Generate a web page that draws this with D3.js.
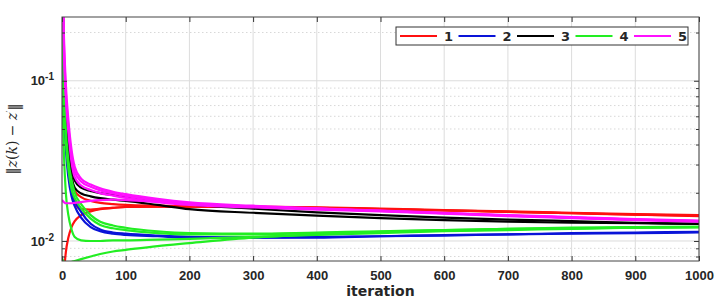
<!DOCTYPE html>
<html>
<head>
<meta charset="utf-8">
<script src="https://cdn.jsdelivr.net/npm/d3@7"></script>
<style>
  body { margin: 0; background: #fff; }
  svg { display: block; font-family: "DejaVu Sans", sans-serif; }
  .tick text { font-weight: bold; font-size: 13px; fill: #262626; }
</style>
</head>
<body>
<div id="chart"></div>
<script>
// sampled iterations (x values shared by every curve)
var iterations = [0, 3, 6, 10, 15, 20, 30, 45, 60, 80, 100, 150, 200, 300, 400, 500, 600, 700, 800, 900, 1000];

var seriesNames = ["1", "2", "3", "4", "5"];
var seriesColors = ["#ff1010", "#0a14d8", "#000000", "#22ee22", "#ff10ff"];

// series 1 (red)
var red = [
  [0.004, 0.0062, 0.0085, 0.0105, 0.0122, 0.0133, 0.0145, 0.0153, 0.0158, 0.0161, 0.0163, 0.0164, 0.0164, 0.0163, 0.0161, 0.0158, 0.0155, 0.0152, 0.0149, 0.0146, 0.0143],
  [0.4, 0.09, 0.045, 0.028, 0.020, 0.0172, 0.0158, 0.0157, 0.0159, 0.0161, 0.0163, 0.0164, 0.0164, 0.0163, 0.0161, 0.0158, 0.0155, 0.0152, 0.0149, 0.0146, 0.0144],
  [0.5, 0.12, 0.06, 0.036, 0.025, 0.0205, 0.0188, 0.0178, 0.0173, 0.0170, 0.0168, 0.0166, 0.0165, 0.0164, 0.0162, 0.0159, 0.0156, 0.0153, 0.0150, 0.0147, 0.0145]
];
// series 2 (blue)
var blue = [
  [0.45, 0.09, 0.045, 0.028, 0.021, 0.018, 0.0152, 0.0128, 0.0118, 0.0113, 0.0111, 0.0108, 0.0106, 0.0105, 0.0106, 0.0107, 0.0109, 0.0110, 0.0112, 0.0113, 0.0114],
  [0.35, 0.07, 0.038, 0.025, 0.019, 0.0165, 0.0140, 0.0122, 0.0115, 0.0111, 0.0109, 0.0107, 0.0105, 0.0105, 0.0105, 0.0107, 0.0108, 0.0110, 0.0111, 0.0112, 0.0113]
];
// series 3 (black)
var black = [
  [0.5, 0.11, 0.055, 0.034, 0.025, 0.0215, 0.0198, 0.0190, 0.0185, 0.0181, 0.0178, 0.0168, 0.0158, 0.0150, 0.0144, 0.0139, 0.0135, 0.0132, 0.0130, 0.0129, 0.0128],
  [0.6, 0.14, 0.07, 0.042, 0.029, 0.0238, 0.0215, 0.0205, 0.0199, 0.0194, 0.0190, 0.0178, 0.0169, 0.0159, 0.0151, 0.0145, 0.0140, 0.0136, 0.0133, 0.0130, 0.0128]
];
// series 4 (green)
var green = [
  [0.4, 0.1, 0.05, 0.032, 0.024, 0.020, 0.0170, 0.0145, 0.0132, 0.0125, 0.0121, 0.0115, 0.0112, 0.0111, 0.0113, 0.0115, 0.0117, 0.0119, 0.0121, 0.0122, 0.0123],
  [0.3, 0.08, 0.042, 0.028, 0.021, 0.0185, 0.0160, 0.0138, 0.0126, 0.0120, 0.0117, 0.0112, 0.0110, 0.0110, 0.0112, 0.0114, 0.0116, 0.0118, 0.0120, 0.0121, 0.0122],
  [0.1, 0.035, 0.020, 0.0145, 0.0118, 0.0106, 0.0101, 0.0100, 0.0100, 0.0101, 0.0101, 0.0102, 0.0103, 0.0106, 0.0109, 0.0112, 0.0115, 0.0117, 0.0119, 0.0121, 0.0122],
  [0.0078, 0.0074, 0.0072, 0.0072, 0.0074, 0.0075, 0.0077, 0.0080, 0.0083, 0.0086, 0.0088, 0.0093, 0.0097, 0.0105, 0.0110, 0.0114, 0.0117, 0.0119, 0.0120, 0.0121, 0.0122]
];
// series 5 (magenta)
var magenta = [
  [0.6, 0.17, 0.085, 0.052, 0.034, 0.027, 0.0235, 0.0218, 0.0207, 0.0198, 0.0191, 0.0179, 0.0171, 0.0164, 0.0159, 0.0154, 0.0149, 0.0144, 0.0140, 0.0136, 0.0133],
  [0.7, 0.19, 0.095, 0.057, 0.037, 0.029, 0.0245, 0.0225, 0.0213, 0.0203, 0.0196, 0.0183, 0.0174, 0.0166, 0.0160, 0.0155, 0.0150, 0.0145, 0.0141, 0.0137, 0.0134],
  [0.5, 0.15, 0.078, 0.048, 0.031, 0.025, 0.0222, 0.0208, 0.0199, 0.0192, 0.0186, 0.0175, 0.0168, 0.0162, 0.0157, 0.0153, 0.0148, 0.0143, 0.0139, 0.0135, 0.0132],
  [0.018, 0.0175, 0.0172, 0.0172, 0.0172, 0.0173, 0.0175, 0.0178, 0.0180, 0.0181, 0.0180, 0.0176, 0.0170, 0.0164, 0.0159, 0.0154, 0.0149, 0.0144, 0.0140, 0.0136, 0.0133]
];
var allSeries = [red, blue, black, green, magenta];

var xTicks = [0, 100, 200, 300, 400, 500, 600, 700, 800, 900, 1000];
var yMajor = [0.01, 0.1];
var yMinor = [0.008, 0.009, 0.02, 0.03, 0.04, 0.05, 0.06, 0.07, 0.08, 0.09, 0.2];

var W = 721, H = 300;
var margin = {top: 17, right: 22, bottom: 39, left: 62};
var width = W - margin.left - margin.right;
var height = H - margin.top - margin.bottom;

var svg = d3.select("#chart").append("svg")
    .attr("width", W)
    .attr("height", H);

var g = svg.append("g")
    .attr("transform", "translate(" + margin.left + "," + margin.top + ")");

var x = d3.scaleLinear().domain([0, 1000]).range([0, width]);
var y = d3.scaleLog().domain([0.0075, 0.25]).range([height, 0]);

// grid
g.append("g").selectAll("line").data(yMinor).enter().append("line")
    .attr("x1", 0).attr("x2", width)
    .attr("y1", function(d) { return y(d); }).attr("y2", function(d) { return y(d); })
    .attr("stroke", "#d8d8d8").attr("stroke-dasharray", "1.5,2.5");

g.append("g").selectAll("line").data(yMajor).enter().append("line")
    .attr("x1", 0).attr("x2", width)
    .attr("y1", function(d) { return y(d); }).attr("y2", function(d) { return y(d); })
    .attr("stroke", "#dcdcdc");

g.append("g").selectAll("line").data(xTicks).enter().append("line")
    .attr("y1", 0).attr("y2", height)
    .attr("x1", function(d) { return x(d); }).attr("x2", function(d) { return x(d); })
    .attr("stroke", "#dcdcdc");

// curves
g.append("clipPath").attr("id", "clip")
  .append("rect").attr("width", width).attr("height", height);

var line = d3.line()
    .x(function(d, i) { return x(iterations[i]); })
    .y(function(d) { return y(d); })
    .curve(d3.curveMonotoneX);

var curves = g.append("g").attr("clip-path", "url(#clip)");
allSeries.forEach(function(group, s) {
  group.forEach(function(vals) {
    curves.append("path")
      .attr("d", line(vals))
      .attr("fill", "none")
      .attr("stroke", seriesColors[s])
      .attr("stroke-width", 2.2);
  });
});

// axes
var xAxis = d3.axisBottom(x).tickValues(xTicks).tickSizeInner(-5).tickSizeOuter(0).tickPadding(10).tickFormat(d3.format("d"));
var gx = g.append("g").attr("transform", "translate(0," + height + ")").call(xAxis);

var xTop = d3.axisTop(x).tickValues(xTicks).tickSizeInner(-5).tickSizeOuter(0).tickFormat("");
g.append("g").call(xTop);

var yAxis = d3.axisLeft(y).tickValues(yMajor).tickSizeInner(-5).tickSizeOuter(0).tickPadding(8).tickFormat("");
var gy = g.append("g").call(yAxis);
gy.selectAll(".tick").append("text")
    .attr("x", -8).attr("dy", "0.32em")
    .attr("text-anchor", "end")
    .each(function(d) {
      var t = d3.select(this);
      t.append("tspan").text("10");
      t.append("tspan").attr("dy", "-0.5em").attr("font-size", "10px").text(Math.round(Math.log10(d)));
    });

var yMinorAxis = d3.axisLeft(y).tickValues(yMinor).tickSizeInner(-3).tickSizeOuter(0).tickFormat("");
g.append("g").call(yMinorAxis);

var yRight = d3.axisRight(y).tickValues(yMajor).tickSizeInner(-5).tickSizeOuter(0).tickFormat("");
g.append("g").attr("transform", "translate(" + width + ",0)").call(yRight);
var yRightMinor = d3.axisRight(y).tickValues(yMinor).tickSizeInner(-3).tickSizeOuter(0).tickFormat("");
g.append("g").attr("transform", "translate(" + width + ",0)").call(yRightMinor);

g.selectAll(".domain").remove();
g.selectAll(".tick line").attr("stroke", "#333");

g.append("rect")
    .attr("width", width).attr("height", height)
    .attr("fill", "none").attr("stroke", "#444").attr("stroke-width", 1);

// labels
svg.append("text")
    .attr("x", margin.left + width / 2).attr("y", 296)
    .attr("text-anchor", "middle")
    .attr("font-weight", "bold").attr("font-size", "14px").attr("fill", "#262626")
    .text("iteration");

var yl = svg.append("text")
    .attr("transform", "translate(17," + (margin.top + height / 2) + ") rotate(-90)")
    .attr("text-anchor", "middle")
    .attr("font-family", "'DejaVu Serif', serif").attr("font-style", "italic")
    .attr("font-size", "14px").attr("fill", "#262626");
yl.append("tspan").attr("font-style", "normal").text("\u2016");
yl.append("tspan").text("z");
yl.append("tspan").attr("font-style", "normal").text("(");
yl.append("tspan").text("k");
yl.append("tspan").attr("font-style", "normal").text(") \u2212 ");
yl.append("tspan").text("z");
yl.append("tspan").attr("font-style", "normal").attr("dy", "-0.4em").attr("font-size", "9px").text("\u2032");
yl.append("tspan").attr("font-style", "normal").attr("dy", "0.4em").text("\u2016");

// legend
var legend = svg.append("g").attr("transform", "translate(396,27)");
legend.append("rect")
    .attr("width", 292).attr("height", 18)
    .attr("fill", "#fff").attr("stroke", "#333").attr("stroke-width", 1);

var item = legend.selectAll(".item").data(seriesNames).enter().append("g")
    .attr("transform", function(d, i) { return "translate(" + (4 + i * 58.5) + ",9)"; });
item.append("line")
    .attr("x1", 0).attr("x2", 37)
    .attr("stroke", function(d, i) { return seriesColors[i]; })
    .attr("stroke-width", 2);
item.append("text")
    .attr("x", 44).attr("dy", "0.35em")
    .attr("font-weight", "bold").attr("font-size", "13px").attr("fill", "#262626")
    .text(function(d) { return d; });
</script>
</body>
</html>
